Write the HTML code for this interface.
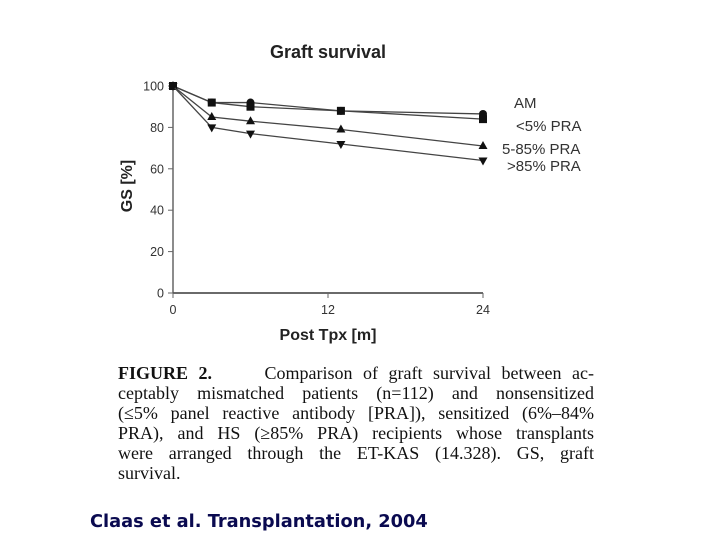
<!DOCTYPE html>
<html><head><meta charset="utf-8"><style>
body{margin:0;width:720px;height:540px;background:#fff;overflow:hidden;position:relative;font-family:"Liberation Sans",sans-serif}
.cap{position:absolute;left:118px;top:363px;width:476px;font-family:"Liberation Serif",serif;font-size:18px;line-height:20px;color:#111}
.cap div{text-align:justify;text-align-last:justify;white-space:nowrap;height:20px}
.cap div.last{text-align-last:left}
.cite{position:absolute;left:90px;top:511px;font-family:"DejaVu Sans",sans-serif;font-weight:bold;font-size:17.8px;color:#0a0a50}
</style></head><body>
<svg id="chart" width="720" height="360" style="position:absolute;left:0;top:0" font-family="Liberation Sans, sans-serif">
<text x="328" y="58" text-anchor="middle" font-size="18" font-weight="bold" fill="#222">Graft survival</text>
<text transform="translate(132,186) rotate(-90)" text-anchor="middle" font-size="16" font-weight="bold" fill="#222">GS [%]</text>
<text x="328" y="340" text-anchor="middle" font-size="16" font-weight="bold" fill="#222">Post Tpx [m]</text>
<g id="axes"></g><g id="series"></g>
</svg>
<div class="cap">
<div><b>FIGURE 2.</b>&nbsp;&nbsp;&nbsp;&nbsp; Comparison of graft survival between ac-</div>
<div>ceptably mismatched patients (n=112) and nonsensitized</div>
<div>(≤5% panel reactive antibody [PRA]), sensitized (6%–84%</div>
<div>PRA), and HS (≥85% PRA) recipients whose transplants</div>
<div>were arranged through the ET-KAS (14.328). GS, graft</div>
<div class="last">survival.</div>
</div>
<div class="cite">Claas et al. Transplantation, 2004</div>
<script>
const months=[0,3,6,13,24];
const seriesAM=[100,92,92,88,86.5];
const seriesLow=[100,92,90,88,84];
const seriesMid=[100,85,83,79,71];
const seriesHigh=[100,80,77,72,64];
const yTicks=[0,20,40,60,80,100];
const xTicks=[0,12,24];
const seriesNames=["AM","<5% PRA","5-85% PRA",">85% PRA"];
const NS="http://www.w3.org/2000/svg";
const xs=v=>173+v*(483-173)/24;
const ys=v=>293-v*2.07;
function mk(t,a,p){const e=document.createElementNS(NS,t);for(const k in a)e.setAttribute(k,a[k]);p.appendChild(e);return e;}
const ax=document.getElementById('axes');
let l=mk('line',{x1:173,y1:ys(100),x2:173,y2:ys(0),stroke:'#666','stroke-width':1.5},ax);


l=mk('line',{x1:173,y1:ys(0),x2:xs(24),y2:ys(0),stroke:'#555','stroke-width':1.8},ax);


yTicks.forEach(v=>{mk('line',{x1:168,x2:173,y1:ys(v),y2:ys(v),stroke:'#666'},ax);
 const t=mk('text',{x:164,y:ys(v)+4.5,'text-anchor':'end','font-size':12.5,fill:'#333'},ax);t.textContent=v;
 
 });
xTicks.forEach(v=>{mk('line',{x1:xs(v),x2:xs(v),y1:ys(0),y2:ys(0)+5,stroke:'#666'},ax);
 const t=mk('text',{x:xs(v),y:ys(0)+21,'text-anchor':'middle','font-size':12.5,fill:'#333'},ax);t.textContent=v;
 
 });
const sg=document.getElementById('series');
const all=[seriesAM,seriesLow,seriesMid,seriesHigh];
const shapes=['circle','square','tri','itri'];
const legY=[103,126,149,166];
const legX=[514,516,502,507];
all.forEach((s,i)=>{
 const g=mk('g',{},sg);
 
 
 mk('polyline',{points:s.map((v,j)=>xs(months[j])+','+ys(v)).join(' '),fill:'none',stroke:'#444','stroke-width':1.3},g);
 s.forEach((v,j)=>{const x=xs(months[j]),y=ys(v);let m;
  if(shapes[i]=='circle')m=mk('circle',{cx:x,cy:y,r:4,fill:'#111'},g);
  else if(shapes[i]=='square')m=mk('rect',{x:x-4,y:y-4,width:8,height:8,fill:'#111'},g);
  else if(shapes[i]=='tri')m=mk('polygon',{points:`${x},${y-5} ${x-4.5},${y+3} ${x+4.5},${y+3}`,fill:'#111'},g);
  else m=mk('polygon',{points:`${x},${y+5} ${x-4.5},${y-3} ${x+4.5},${y-3}`,fill:'#111'},g);
  
  });
 const t=mk('text',{x:legX[i],y:legY[i]+5,'font-size':15,fill:'#333'},g);
 t.textContent=seriesNames[i];
 
 
});
</script>
</body></html>
